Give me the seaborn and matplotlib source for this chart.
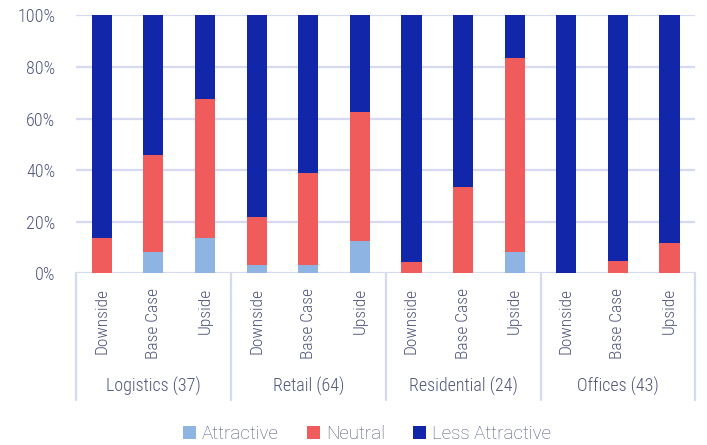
import matplotlib
matplotlib.use("Agg")
import matplotlib.pyplot as plt
import matplotlib.transforms as mtransforms
from matplotlib.patches import Patch
from matplotlib import font_manager
import seaborn as sns
import pandas as pd
import numpy as np

# ---- data ----
sectors = ["Logistics (37)", "Retail (64)", "Residential (24)", "Offices (43)"]
scenarios = ["Downside", "Base Case", "Upside"]
attractive = [0.0, 8.1, 13.5, 3.1, 3.1, 12.5, 0.0, 0.0, 8.3, 0.0, 0.0, 0.0]
neutral = [13.5, 37.8, 54.1, 18.8, 35.9, 50.0, 4.2, 33.3, 75.0, 0.0, 4.7, 11.6]
less_attractive = [86.5, 54.1, 32.4, 78.1, 61.0, 37.5, 95.8, 66.7, 16.7, 100.0, 95.3, 88.4]
series_names = ["Attractive", "Neutral", "Less Attractive"]
colors = ["#8DB4E2", "#F05B5B", "#1226A9"]
grid_color = "#D5DAF0"
text_color = "#50557A"

sns.set_theme(style="white")
names = {f.name for f in font_manager.fontManager.ttflist}
cands = ["Roboto Condensed", "Barlow Semi Condensed", "Fira Sans Condensed",
         "PT Sans Narrow", "Archivo Narrow", "Liberation Sans Narrow", "Roboto"]
cond = next(c for c in cands if c in names)
light_ok = any(f.name == cond and f.weight in (300, "light") for f in font_manager.fontManager.ttflist)
wt = "light" if light_ok else "normal"
plt.rcParams["font.family"] = [cond, "DejaVu Sans"]
plt.rcParams["font.weight"] = wt

keys = [f"{s}|{c}" for s in sectors for c in scenarios]
df = pd.DataFrame({"key": keys, "a": attractive, "n": neutral, "l": less_attractive})
df["cum_a"] = df["a"]
df["cum_n"] = df["a"] + df["n"]
df["cum_l"] = df["a"] + df["n"] + df["l"]

fig = plt.figure(figsize=(7.07, 4.45), dpi=100)
ax = fig.add_axes([0.1075, 0.3858, 0.876, 0.5798])

for col, color in [("cum_l", colors[2]), ("cum_n", colors[1]), ("cum_a", colors[0])]:
    sns.barplot(data=df, x="key", y=col, order=keys, color=color, width=0.39,
                linewidth=0, saturation=1, ax=ax, zorder=3)

ax.set_ylim(0, 100)
ax.set_xlim(-0.5, len(keys) - 0.5)
ax.set_yticks(np.arange(0, 101, 20))
ax.set_yticklabels([f"{v}%" for v in range(0, 101, 20)])
for v in range(0, 101, 20):
    ax.axhline(v, color=grid_color, lw=1.6, zorder=1)
ax.set_xticks(range(len(keys)))
ax.set_xticklabels([k.split("|")[1] for k in keys], rotation=90)
ax.tick_params(axis="x", length=0, pad=10.5, labelsize=12.5, labelcolor=text_color)
ax.tick_params(axis="y", length=0, pad=15, labelsize=13, labelcolor=text_color)
ax.set_xlabel("")
ax.set_ylabel("")
for s in ax.spines.values():
    s.set_visible(False)

trans = mtransforms.blended_transform_factory(ax.transData, ax.transAxes)
for b in [-0.5, 2.5, 5.5, 8.5, 11.5]:
    ax.plot([b, b], [0, -0.49], transform=trans, color=grid_color, lw=1.6,
            clip_on=False, zorder=1)
for i, s in enumerate(sectors):
    ax.text(3 * i + 1, -0.438, s, transform=trans, ha="center", va="center",
            fontsize=13, color=text_color)

handles = [Patch(facecolor=c, edgecolor="none", label=n) for c, n in zip(colors, series_names)]
fig.legend(handles=handles, loc="center", bbox_to_anchor=(0.519, 0.025), ncol=3,
           frameon=False, handlelength=0.7, handleheight=0.7, handletextpad=0.3,
           columnspacing=1.5, borderaxespad=0,
           prop={"family": ["Roboto", "DejaVu Sans"], "size": 13.5, "weight": wt},
           labelcolor=text_color)

fig.savefig("out.png", dpi=100)
